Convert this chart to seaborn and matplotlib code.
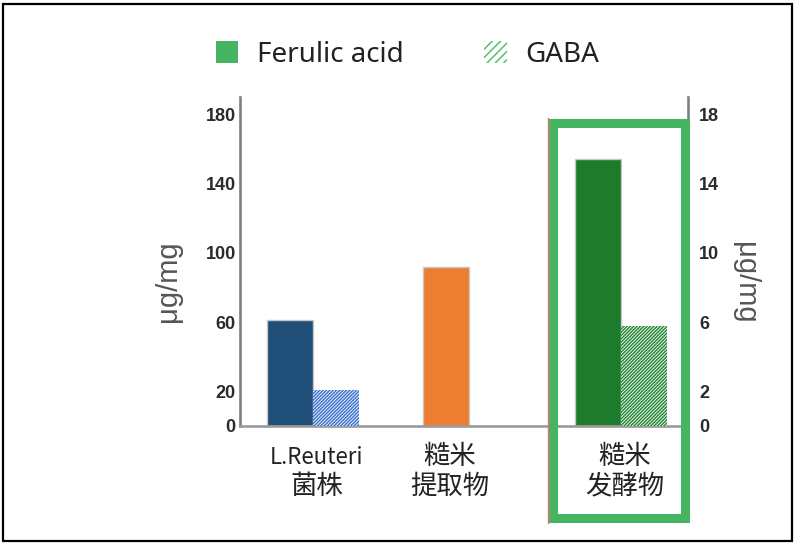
import numpy as np
import pandas as pd
import seaborn as sns
import matplotlib.pyplot as plt
from matplotlib.patches import Patch, Rectangle
from matplotlib.lines import Line2D

# Values (both axes in ug/mg, GABA on the right axis).
groups = ["L.Reuteri菌株", "糙米提取物", "糙米发酵物"]
label_lines = [("L.Reuteri", "菌株"), ("糙米", "提取物"), ("糙米", "发酵物")]
ferulic = [61, 92, 154]
gaba = [2.1, np.nan, 5.75]
left_ticks = [0, 20, 60, 100, 140, 180]
right_ticks = [0, 2, 6, 10, 14, 18]

# Styling.
fer_colors = ["#1f4e79", "#ed7d31", "#1e7b2c"]
gaba_colors = ["#3f74d0", None, "#2a8a3c"]
legend_green = "#45b562"

sns.set_theme(style="white")
plt.rcParams["font.family"] = ["Noto Sans CJK SC", "DejaVu Sans"]
plt.rcParams["hatch.linewidth"] = 1.1

fig = plt.figure(figsize=(7.95, 5.45), dpi=100)
W, H = 795, 545
# axes box in pixels: x 240..688, y 97..426
ax = fig.add_axes([240 / W, (H - 426) / H, 448 / W, 329 / H])
ax2 = ax.twinx()

# bar layout in pixel-like x units
bar_w = 46
group_x = np.array([73.0, 206.0, 381.0])
has_gaba = ~np.isnan(np.array(gaba))
fer_x = group_x - np.where(has_gaba, bar_w / 2, 0)
gaba_x = (group_x + bar_w / 2)[has_gaba]

df_f = pd.DataFrame({"x": fer_x, "val": ferulic, "grp": groups})
df_g = pd.DataFrame({"x": gaba_x, "val": np.array(gaba)[has_gaba],
                     "grp": np.array(groups)[has_gaba]})

sns.barplot(data=df_f, x="x", y="val", hue="grp",
            palette=dict(zip(groups, fer_colors)), native_scale=True,
            width=bar_w / np.diff(np.sort(fer_x)).min(), dodge=False,
            saturation=1, legend=False, errorbar=None, linewidth=1,
            edgecolor="#c8c8c8", ax=ax)

g_pal = {g: c for g, c, h in zip(groups, gaba_colors, has_gaba) if h}
sns.barplot(data=df_g, x="x", y="val", hue="grp", palette=g_pal,
            native_scale=True, width=bar_w / np.diff(np.sort(gaba_x)).min(),
            dodge=False, saturation=1, legend=False, errorbar=None, ax=ax2)
for p, c in zip(ax2.patches, [g_pal[g] for g in df_g["grp"]]):
    p.set_facecolor("white")
    p.set_edgecolor(c)
    p.set_hatch("//////////")
    p.set_linewidth(0)

ax.set_xlim(0, 448)
ax.set_ylim(0, 190)
ax2.set_ylim(0, 19)
ax.set_yticks(left_ticks)
ax2.set_yticks(right_ticks)
ax.set_xticks(group_x)
ax.set_xticklabels([])
for a in (ax, ax2):
    a.set_xlabel("")
    a.set_ylabel("")
    a.grid(False)
    a.set_facecolor("none")
    for s in a.spines.values():
        s.set_visible(False)

tick_font = dict(family="Liberation Sans", weight="bold", size=13)
ax.tick_params(axis="y", length=0, pad=3, colors="#2b2b2b")
ax2.tick_params(axis="y", length=0, pad=8, colors="#2b2b2b")
ax.tick_params(axis="x", length=0)
for t in ax.get_yticklabels() + ax2.get_yticklabels():
    t.set_fontproperties(tick_font)

ax.spines["left"].set_visible(True)
ax.spines["left"].set_color("#808080")
ax.spines["left"].set_linewidth(1.9)
ax.spines["bottom"].set_visible(True)
ax.spines["bottom"].set_color("#9a9a9a")
ax.spines["bottom"].set_linewidth(1.9)
ax2.spines["right"].set_visible(True)
ax2.spines["right"].set_color("#808080")
ax2.spines["right"].set_linewidth(1.9)

# category labels (two lines each)
tr = ax.get_xaxis_transform()
for gx, (l1, l2) in zip(group_x, label_lines):
    size1 = 16 if l1.isascii() else 19
    ax.text(gx + 4, -31 / 329, l1, transform=tr, ha="center", va="center",
            fontsize=size1, color="#222222")
    ax.text(gx + 4, -60 / 329, l2, transform=tr, ha="center", va="center",
            fontsize=19, color="#222222")

# axis titles
fig.text(168 / W, 1 - 281 / H, "μg/mg", rotation=90, ha="center", va="center",
         fontsize=21, color="#555555", family="Liberation Sans")
fig.text(745 / W, 1 - 283 / H, "μg/mg", rotation=270, ha="center", va="center",
         fontsize=21, color="#555555", family="Liberation Sans")

# legend
handles = [Patch(facecolor=legend_green, edgecolor="none"),
           Patch(facecolor="white", edgecolor="#5cbf6a", hatch="////", linewidth=0)]
fig.legend(handles, ["Ferulic acid", "GABA"], loc="center left",
           bbox_to_anchor=(216 / W, 1 - 55 / H), ncol=2, frameon=False,
           prop=dict(family="Noto Sans", size=20), handlelength=0.8,
           handleheight=0.85, handletextpad=0.68, columnspacing=2.9,
           borderpad=0, borderaxespad=0, labelcolor="#222222")

# highlight box around the fermented group
fig.add_artist(Rectangle((553 / W, (H - 518) / H), 131.5 / W, 395 / H,
                         transform=fig.transFigure, fill=False,
                         edgecolor=legend_green, linewidth=6.5, zorder=10))
fig.add_artist(Line2D([548 / W, 548 / W], [(H - 523) / H, (H - 118) / H],
                      transform=fig.transFigure, color="#e87070", linewidth=1,
                      zorder=11))

# outer frame
fig.add_artist(Rectangle((3 / W, 4 / H), 789 / W, 537 / H,
                         transform=fig.transFigure, fill=False,
                         edgecolor="black", linewidth=1.6, zorder=12))

fig.savefig("out.png", dpi=100)
